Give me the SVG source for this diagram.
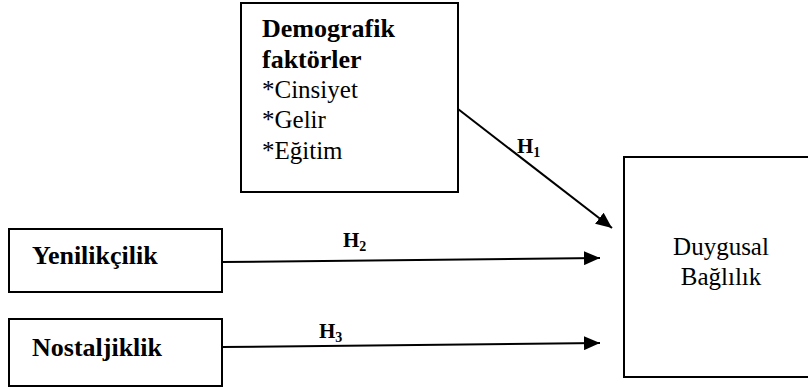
<svg xmlns="http://www.w3.org/2000/svg" width="808" height="390" viewBox="0 0 808 390">
<defs>
<style>
.box{fill:#fff;stroke:#000;stroke-width:2}
.t{font-family:"Liberation Serif","Times New Roman",serif;font-size:25px;fill:#000}
.b{font-weight:bold;font-size:26px}
.h{font-family:"Liberation Serif","Times New Roman",serif;font-weight:bold;font-size:21px;fill:#000}
.sub{font-size:14px}
.c{fill:none;stroke:#000;stroke-width:2}
</style>
<marker id="ah" markerUnits="userSpaceOnUse" markerWidth="16" markerHeight="14" refX="16" refY="7" orient="auto">
<path d="M0,0 L16,7 L0,14 Z" fill="#000"/>
</marker>
</defs>
<rect width="808" height="390" fill="#fff"/>
<g id="demografik">
<rect class="box" x="241" y="3" width="217" height="189"/>
<text class="t b" x="262" y="37">Demografik</text>
<text class="t b" x="262" y="68">faktörler</text>
<text class="t" x="262" y="98">*Cinsiyet</text>
<text class="t" x="262" y="128">*Gelir</text>
<text class="t" x="262" y="159">*Eğitim</text>
</g>
<g id="yenilikcilik">
<rect class="box" x="9" y="229" width="213" height="63"/>
<text class="t b" x="32" y="264">Yenilikçilik</text>
</g>
<g id="nostaljiklik">
<rect class="box" x="9" y="319" width="213" height="67"/>
<text class="t b" x="32" y="356">Nostaljiklik</text>
</g>
<g id="duygusal">
<rect class="box" x="624" y="157" width="195" height="220"/>
<text class="t" x="721" y="255" text-anchor="middle">Duygusal</text>
<text class="t" x="721" y="285" text-anchor="middle">Bağlılık</text>
</g>
<g id="connectors">
<line class="c" x1="458" y1="109" x2="612" y2="228" marker-end="url(#ah)"/>
<line class="c" x1="222" y1="262" x2="600" y2="258" marker-end="url(#ah)"/>
<line class="c" x1="222" y1="347" x2="600" y2="343" marker-end="url(#ah)"/>
<text class="h" x="517" y="153">H<tspan class="sub" dy="4">1</tspan></text>
<text class="h" x="343" y="247">H<tspan class="sub" dy="4">2</tspan></text>
<text class="h" x="319" y="338">H<tspan class="sub" dy="4">3</tspan></text>
</g>
</svg>
